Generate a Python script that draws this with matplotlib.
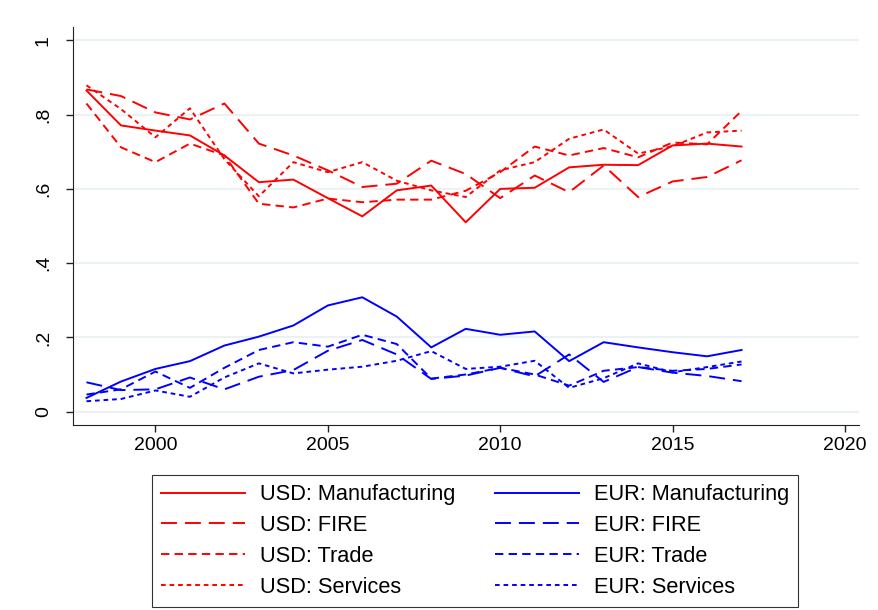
import numpy as np
import matplotlib
matplotlib.use("Agg")
import matplotlib.pyplot as plt

plt.rcParams['font.family'] = ['Liberation Sans', 'DejaVu Sans']

years = list(range(1998, 2018))

# USD shares by sector
usd_manufacturing = [0.865, 0.771, 0.757, 0.744, 0.690, 0.618, 0.625, 0.575, 0.526, 0.596,
                     0.609, 0.510, 0.600, 0.603, 0.658, 0.665, 0.664, 0.717, 0.722, 0.714]
usd_fire = [0.868, 0.850, 0.806, 0.787, 0.830, 0.722, 0.690, 0.650, 0.605, 0.614,
            0.676, 0.640, 0.575, 0.636, 0.591, 0.663, 0.578, 0.620, 0.632, 0.677]
usd_trade = [0.830, 0.712, 0.672, 0.722, 0.690, 0.560, 0.550, 0.574, 0.564, 0.571,
             0.571, 0.595, 0.645, 0.714, 0.690, 0.710, 0.685, 0.725, 0.720, 0.810]
usd_services = [0.879, 0.815, 0.739, 0.817, 0.680, 0.580, 0.672, 0.645, 0.672, 0.622,
                0.596, 0.578, 0.650, 0.672, 0.735, 0.760, 0.695, 0.715, 0.752, 0.757]

# EUR shares by sector
eur_manufacturing = [0.037, 0.081, 0.115, 0.136, 0.178, 0.202, 0.232, 0.286, 0.308, 0.256,
                     0.173, 0.223, 0.207, 0.216, 0.136, 0.187, 0.173, 0.160, 0.149, 0.166]
eur_fire = [0.079, 0.058, 0.060, 0.092, 0.060, 0.094, 0.112, 0.164, 0.193, 0.154,
            0.088, 0.097, 0.118, 0.095, 0.154, 0.080, 0.120, 0.105, 0.096, 0.082]
eur_trade = [0.046, 0.060, 0.108, 0.064, 0.118, 0.166, 0.187, 0.175, 0.207, 0.182,
             0.089, 0.100, 0.118, 0.100, 0.070, 0.110, 0.120, 0.110, 0.115, 0.127]
eur_services = [0.028, 0.034, 0.057, 0.040, 0.092, 0.130, 0.103, 0.113, 0.121, 0.137,
                0.163, 0.115, 0.121, 0.137, 0.064, 0.090, 0.130, 0.106, 0.120, 0.135]

styles = {
    "Manufacturing": "-",
    "FIRE": (0, (8.2, 4.1)),
    "Trade": (0, (4.3, 2.7)),
    "Services": (0, (2.4, 2.0)),
}

fig = plt.figure(figsize=(8.79, 6.10), dpi=100)
ax = fig.add_axes([0.0827, 0.3033, 0.8943, 0.6524])

lw = 1.4
usd = {"Manufacturing": usd_manufacturing, "FIRE": usd_fire,
       "Trade": usd_trade, "Services": usd_services}
eur = {"Manufacturing": eur_manufacturing, "FIRE": eur_fire,
       "Trade": eur_trade, "Services": eur_services}

handles = []
for name, vals in usd.items():
    h, = ax.plot(years, vals, color="#ff0000", lw=lw, linestyle=styles[name],
                 label=f"USD: {name}")
    handles.append(h)
for name, vals in eur.items():
    h, = ax.plot(years, vals, color="#0000ff", lw=lw, linestyle=styles[name],
                 label=f"EUR: {name}")
    handles.append(h)

ax.set_xlim(1997.6, 2020.4)
ax.set_ylim(-0.036, 1.036)
ax.set_xticks([2000, 2005, 2010, 2015, 2020])
ax.set_yticks([0, 0.2, 0.4, 0.6, 0.8, 1.0])
ax.set_yticklabels(["0", ".2", ".4", ".6", ".8", "1"], rotation=90, va="center")
ax.tick_params(labelsize=14, length=5, width=1, color="#222222")
ax.tick_params(axis="y", pad=10)
ax.tick_params(axis="x", pad=4)
ax.grid(axis="y", color="#eaf2f3", lw=1.5)
ax.set_axisbelow(True)
for s in ["top", "right"]:
    ax.spines[s].set_visible(False)
for s in ["left", "bottom"]:
    ax.spines[s].set_color("#222222")

leg = fig.legend(handles=handles, loc="upper center", bbox_to_anchor=(0.5404, 0.2213),
                 ncol=2, fontsize=15.7, frameon=True, fancybox=False,
                 handlelength=3.85, handletextpad=0.7, columnspacing=1.8,
                 labelspacing=0.45, borderpad=0.42, borderaxespad=0,
                 edgecolor="#000000")
leg.get_frame().set_linewidth(0.8)

fig.savefig("out.png", dpi=100, facecolor="white")
